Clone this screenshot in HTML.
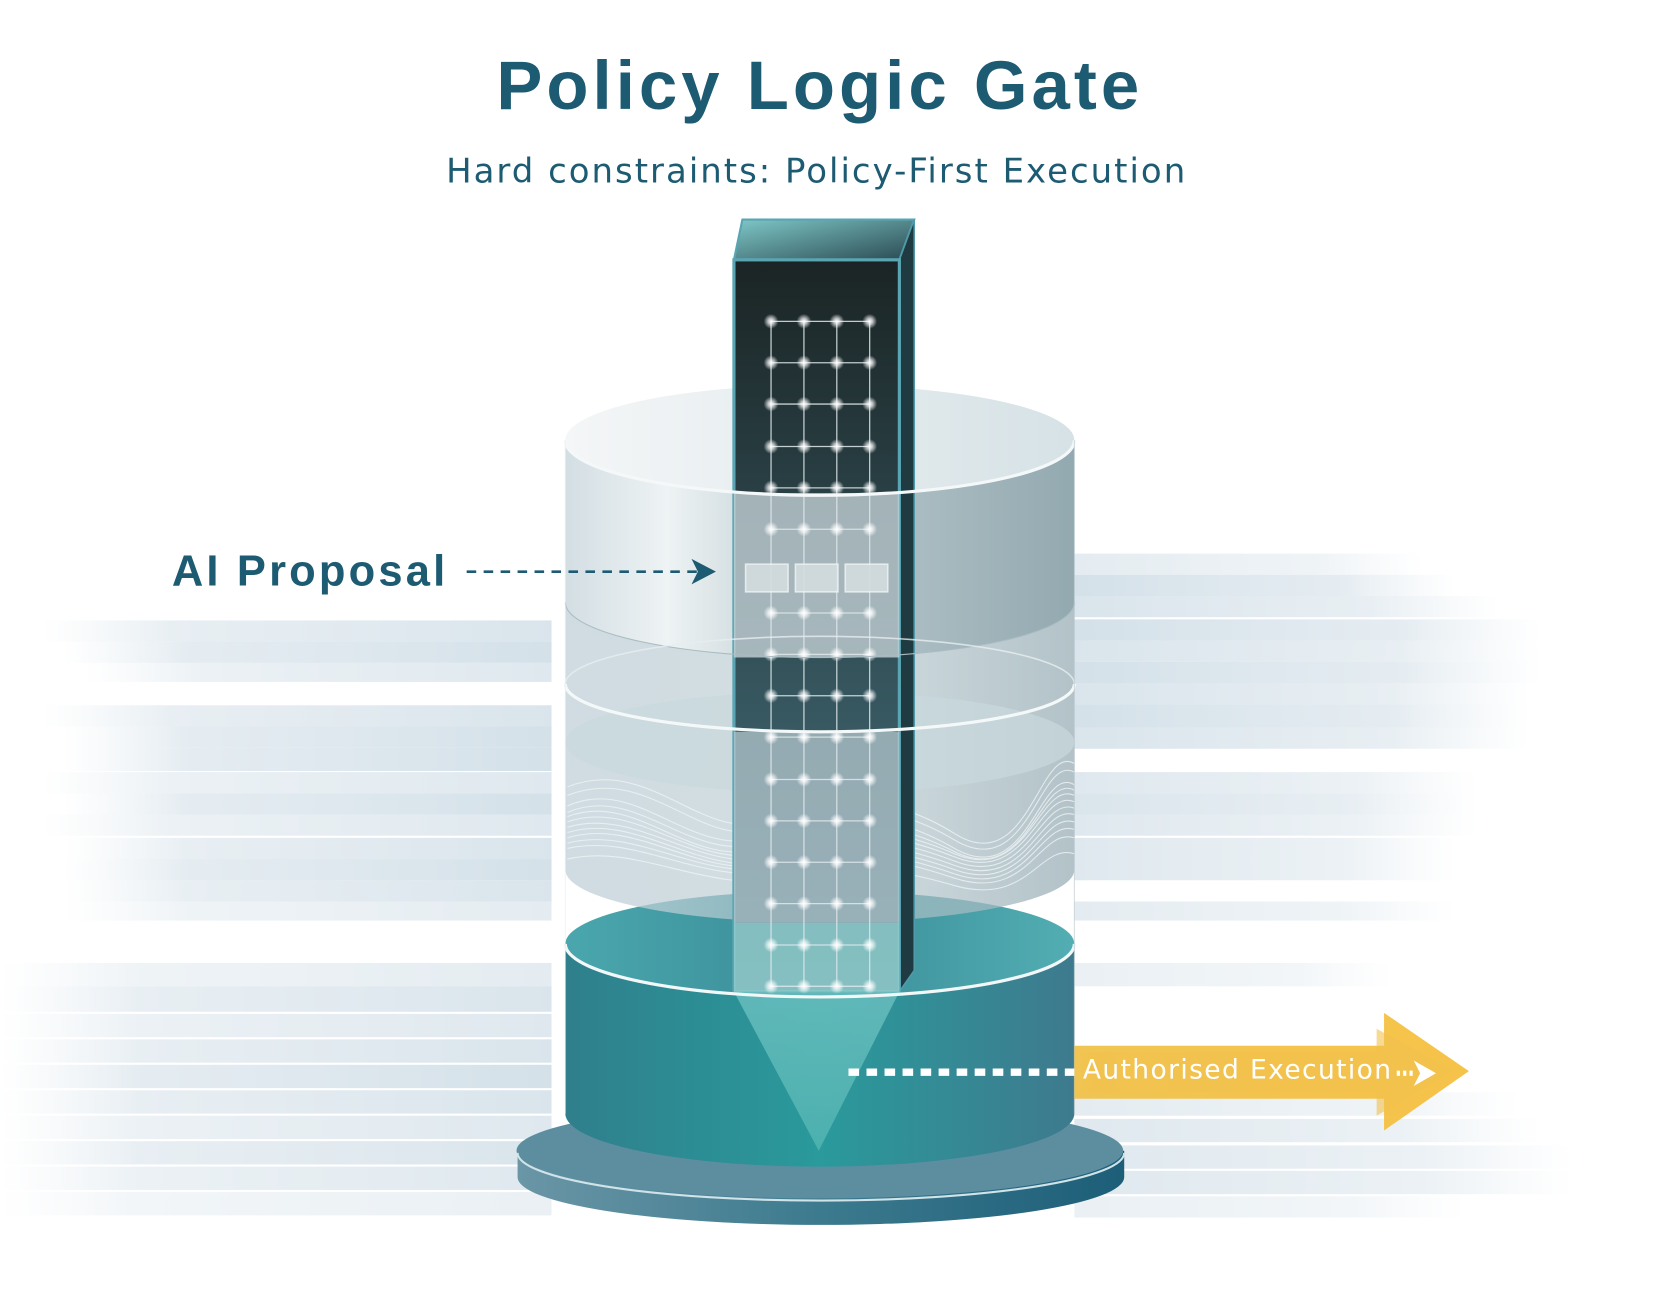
<!DOCTYPE html>
<html><head><meta charset="utf-8"><style>
html,body{margin:0;padding:0;background:#fff;}
svg{display:block;}
</style></head><body>
<svg width="1663" height="1296" viewBox="0 0 1568 1222" xmlns="http://www.w3.org/2000/svg">
<defs>
<linearGradient id="fadeL" x1="0" x2="1"><stop offset="0" stop-color="#dfe8ee" stop-opacity="0"/><stop offset="0.25" stop-color="#d6e2ea" stop-opacity="0.8"/><stop offset="1" stop-color="#c9d9e3"/></linearGradient>
<linearGradient id="fadeR" x1="1" x2="0"><stop offset="0" stop-color="#dfe8ee" stop-opacity="0"/><stop offset="0.3" stop-color="#d6e2ea" stop-opacity="0.8"/><stop offset="1" stop-color="#c9d9e3"/></linearGradient>
<linearGradient id="band1" x1="0" x2="1"><stop offset="0" stop-color="#d3dee3"/><stop offset="0.2" stop-color="#eef3f4"/><stop offset="0.5" stop-color="#b8c8cd"/><stop offset="1" stop-color="#93a9b0"/></linearGradient>
<linearGradient id="top1" x1="0" x2="1"><stop offset="0" stop-color="#f4f6f7"/><stop offset="1" stop-color="#d6e2e6"/></linearGradient>
<linearGradient id="glass" x1="0" x2="1"><stop offset="0" stop-color="#c4d3da" stop-opacity="0.8"/><stop offset="0.5" stop-color="#b7c9cf" stop-opacity="0.6"/><stop offset="1" stop-color="#9fb3ba" stop-opacity="0.8"/></linearGradient>
<linearGradient id="teal" x1="0" x2="1"><stop offset="0" stop-color="#2f7f8c"/><stop offset="0.5" stop-color="#2a9a9c"/><stop offset="1" stop-color="#3e7a8e"/></linearGradient>
<linearGradient id="tealtop" x1="0" x2="1"><stop offset="0" stop-color="#4aa7ad"/><stop offset="0.5" stop-color="#3a8c98"/><stop offset="1" stop-color="#52aeb3"/></linearGradient>
<linearGradient id="base" x1="0" x2="1"><stop offset="0" stop-color="#6a96a6"/><stop offset="0.5" stop-color="#3c7a8e"/><stop offset="1" stop-color="#1d5e78"/></linearGradient>
<linearGradient id="tower" x1="0" y1="0" x2="0" y2="1"><stop offset="0" stop-color="#1b2424"/><stop offset="0.45" stop-color="#2f4b52"/><stop offset="1" stop-color="#4a7480"/></linearGradient>
<linearGradient id="ttop" x1="0" x2="1" y1="0" y2="1"><stop offset="0" stop-color="#7fc8c8"/><stop offset="1" stop-color="#2a4a52"/></linearGradient>
<linearGradient id="yel" x1="0" x2="1"><stop offset="0" stop-color="#f0c24a"/><stop offset="1" stop-color="#f6c040"/></linearGradient>
<radialGradient id="glow"><stop offset="0" stop-color="#fff"/><stop offset="0.4" stop-color="#fff" stop-opacity="0.7"/><stop offset="1" stop-color="#fff" stop-opacity="0"/></radialGradient>
<linearGradient id="cone" x1="0" y1="0" x2="0" y2="1"><stop offset="0" stop-color="#6cc0c0" stop-opacity="0.8"/><stop offset="1" stop-color="#4fb3b0" stop-opacity="0.9"/></linearGradient>
</defs>

<g>
<rect x="40" y="585" width="480" height="20" fill="url(#fadeL)" opacity="0.7"/>
<rect x="60" y="605" width="460" height="20" fill="url(#fadeL)" opacity="0.8"/>
<rect x="80" y="625" width="440" height="18" fill="url(#fadeL)" opacity="0.6"/>
<rect x="40" y="665" width="480" height="20" fill="url(#fadeL)" opacity="0.7"/>
<rect x="60" y="685" width="460" height="20" fill="url(#fadeL)" opacity="0.8"/>
<rect x="60" y="705" width="460" height="22" fill="url(#fadeL)" opacity="0.8"/>
<rect x="40" y="728" width="480" height="20" fill="url(#fadeL)" opacity="0.6"/>
<rect x="60" y="748" width="460" height="20" fill="url(#fadeL)" opacity="0.8"/>
<rect x="40" y="768" width="480" height="20" fill="url(#fadeL)" opacity="0.6"/>
<rect x="60" y="790" width="460" height="20" fill="url(#fadeL)" opacity="0.7"/>
<rect x="60" y="810" width="460" height="20" fill="url(#fadeL)" opacity="0.8"/>
<rect x="60" y="830" width="460" height="20" fill="url(#fadeL)" opacity="0.7"/>
<rect x="60" y="850" width="460" height="18" fill="url(#fadeL)" opacity="0.5"/>
<rect x="0" y="908" width="520" height="22" fill="url(#fadeL)" opacity="0.5"/>
<rect x="0" y="930" width="520" height="24" fill="url(#fadeL)" opacity="0.7"/>
<rect x="0" y="956" width="520" height="22" fill="url(#fadeL)" opacity="0.6"/>
<rect x="0" y="980" width="520" height="22" fill="url(#fadeL)" opacity="0.7"/>
<rect x="0" y="1004" width="520" height="22" fill="url(#fadeL)" opacity="0.8"/>
<rect x="0" y="1028" width="520" height="22" fill="url(#fadeL)" opacity="0.7"/>
<rect x="0" y="1052" width="520" height="22" fill="url(#fadeL)" opacity="0.6"/>
<rect x="0" y="1076" width="520" height="22" fill="url(#fadeL)" opacity="0.7"/>
<rect x="0" y="1100" width="520" height="22" fill="url(#fadeL)" opacity="0.6"/>
<rect x="0" y="1124" width="520" height="22" fill="url(#fadeL)" opacity="0.4"/>

<rect x="1013" y="522" width="330" height="20" fill="url(#fadeR)" opacity="0.5"/>
<rect x="1013" y="542" width="360" height="20" fill="url(#fadeR)" opacity="0.8"/>
<rect x="1013" y="562" width="400" height="20" fill="url(#fadeR)" opacity="0.7"/>
<rect x="1013" y="584" width="440" height="20" fill="url(#fadeR)" opacity="0.8"/>
<rect x="1013" y="604" width="440" height="20" fill="url(#fadeR)" opacity="0.7"/>
<rect x="1013" y="624" width="440" height="20" fill="url(#fadeR)" opacity="0.8"/>
<rect x="1013" y="644" width="430" height="20" fill="url(#fadeR)" opacity="0.7"/>
<rect x="1013" y="664" width="430" height="22" fill="url(#fadeR)" opacity="0.8"/>
<rect x="1013" y="686" width="430" height="20" fill="url(#fadeR)" opacity="0.7"/>
<rect x="1013" y="728" width="380" height="20" fill="url(#fadeR)" opacity="0.6"/>
<rect x="1013" y="748" width="380" height="20" fill="url(#fadeR)" opacity="0.7"/>
<rect x="1013" y="768" width="380" height="20" fill="url(#fadeR)" opacity="0.6"/>
<rect x="1013" y="790" width="360" height="20" fill="url(#fadeR)" opacity="0.6"/>
<rect x="1013" y="810" width="360" height="20" fill="url(#fadeR)" opacity="0.6"/>
<rect x="1013" y="850" width="360" height="18" fill="url(#fadeR)" opacity="0.5"/>
<rect x="1013" y="908" width="300" height="22" fill="url(#fadeR)" opacity="0.4"/>
<rect x="1013" y="1030" width="420" height="22" fill="url(#fadeR)" opacity="0.5"/>
<rect x="1013" y="1055" width="440" height="22" fill="url(#fadeR)" opacity="0.6"/>
<rect x="1013" y="1080" width="470" height="22" fill="url(#fadeR)" opacity="0.6"/>
<rect x="1013" y="1104" width="470" height="22" fill="url(#fadeR)" opacity="0.6"/>
<rect x="1013" y="1128" width="370" height="20" fill="url(#fadeR)" opacity="0.4"/>
</g>

<text x="773" y="103" text-anchor="middle" font-family="Liberation Sans, sans-serif" font-weight="bold" font-size="65" letter-spacing="3.8" fill="#1d5b73">Policy Logic Gate</text>
<text x="770" y="172" text-anchor="middle" font-family="DejaVu Sans, sans-serif" font-size="32" letter-spacing="1.9" fill="#1d5b73">Hard constraints: Policy-First Execution</text>

<path d="M488 1085 L488 1110 A286 45 0 0 0 1060 1110 L1060 1085 Z" fill="url(#base)"/>
<ellipse cx="773" cy="1085" rx="286" ry="45" fill="#5c8ea0"/>
<path d="M488 1087 A286 45 0 0 0 1060 1087" fill="none" stroke="#cfe3e8" stroke-width="2"/>

<path d="M533 890 L533 1050 A240 50 0 0 0 1013 1050 L1013 890 Z" fill="url(#teal)"/>
<ellipse cx="773" cy="890" rx="240" ry="50" fill="url(#tealtop)"/>

<path d="M533 570 L533 820 A240 50 0 0 0 1013 820 L1013 570 Z" fill="url(#glass)"/>
<ellipse cx="773" cy="700" rx="240" ry="48" fill="#c9d8dd" opacity="0.7"/>
<g fill="none" stroke="#eef4f6" stroke-width="1" opacity="0.8">
<path d="M535 760 C600 730 650 810 720 790 S830 760 900 800 S980 720 1013 740"/>
<path d="M535 766 C600 738 650 815 720 795 S830 768 900 803 S980 728 1013 745"/>
<path d="M535 770 C600 745 650 820 720 800 S830 775 900 805 S980 735 1013 750"/>
<path d="M535 775 C600 752 655 822 725 804 S830 780 900 808 S980 742 1013 756"/>
<path d="M535 780 C600 760 660 825 730 808 S830 785 900 812 S980 750 1013 762"/>
<path d="M535 785 C600 765 660 828 730 812 S830 790 900 816 S980 758 1013 768"/>
<path d="M535 790 C600 770 660 830 730 815 S830 795 900 820 S980 765 1013 775"/>
<path d="M535 795 C600 778 660 832 735 818 S830 800 900 824 S980 772 1013 782"/>
<path d="M535 800 C600 785 660 835 740 822 S830 805 900 828 S980 780 1013 790"/>
<path d="M535 810 C600 795 660 840 740 830 S830 815 900 835 S980 795 1013 805"/>
<path d="M535 750 C610 720 660 800 720 782 S830 750 900 792 S980 710 1013 728"/>
<path d="M535 742 C610 712 660 792 720 775 S830 742 900 786 S980 700 1013 720"/>
</g>

<path d="M533 415 L533 568 A240 52 0 0 0 1013 568 L1013 415 Z" fill="url(#band1)"/>
<ellipse cx="773" cy="415" rx="240" ry="52" fill="url(#top1)"/>

<polygon points="692,245 700,207 862,207 848,245" fill="url(#ttop)" stroke="#5aa5b3" stroke-width="2"/>
<polygon points="848,245 862,207 862,915 848,935" fill="#1f3a40" stroke="#4f9aa8" stroke-width="1.5"/>
<rect x="692" y="245" width="156" height="690" fill="url(#tower)" stroke="#5aa5b3" stroke-width="3"/>
<polygon points="692,935 848,935 772,1085" fill="url(#cone)"/>

<path d="M692 465 L848 465 L848 620 L692 620 Z" fill="#c6d3d8" opacity="0.78"/>
<path d="M692 690 L848 690 L848 870 L692 870 Z" fill="#b8cbd1" opacity="0.72"/>
<path d="M692 870 L848 870 L848 935 L692 935 Z" fill="#8fcccc" opacity="0.85"/>

<g stroke="#dfe9ec" stroke-width="1.2" opacity="0.85">
<line x1="727" y1="303" x2="727" y2="930"/><line x1="758" y1="303" x2="758" y2="930"/>
<line x1="789" y1="303" x2="789" y2="930"/><line x1="820" y1="303" x2="820" y2="930"/>
<line x1="727" y1="303" x2="820" y2="303"/><line x1="727" y1="342" x2="820" y2="342"/>
<line x1="727" y1="381" x2="820" y2="381"/><line x1="727" y1="421" x2="820" y2="421"/>
<line x1="727" y1="460" x2="820" y2="460"/><line x1="727" y1="499" x2="820" y2="499"/>
<line x1="727" y1="578" x2="820" y2="578"/><line x1="727" y1="617" x2="820" y2="617"/>
<line x1="727" y1="656" x2="820" y2="656"/><line x1="727" y1="695" x2="820" y2="695"/>
<line x1="727" y1="735" x2="820" y2="735"/><line x1="727" y1="774" x2="820" y2="774"/>
<line x1="727" y1="813" x2="820" y2="813"/><line x1="727" y1="852" x2="820" y2="852"/>
<line x1="727" y1="891" x2="820" y2="891"/><line x1="727" y1="930" x2="820" y2="930"/>
</g>
<g fill="url(#glow)">
<g id="row"><circle cx="727" cy="0" r="7"/><circle cx="758" cy="0" r="7"/><circle cx="789" cy="0" r="7"/><circle cx="820" cy="0" r="7"/></g>
<use href="#row" y="303"/><use href="#row" y="342"/><use href="#row" y="381"/><use href="#row" y="421"/>
<use href="#row" y="460"/><use href="#row" y="499"/><use href="#row" y="578"/><use href="#row" y="617"/>
<use href="#row" y="656"/><use href="#row" y="695"/><use href="#row" y="735"/><use href="#row" y="774"/>
<use href="#row" y="813"/><use href="#row" y="852"/><use href="#row" y="891"/><use href="#row" y="930"/>
</g>
<g fill="#d4dde0" stroke="#eef3f4" stroke-width="1.5" opacity="0.9">
<rect x="703" y="532" width="40" height="26"/><rect x="750" y="532" width="40" height="26"/><rect x="797" y="532" width="40" height="26"/>
</g>

<path d="M533 415 A240 52 0 0 0 1013 415" fill="none" stroke="#f5f8f9" stroke-width="3"/>
<path d="M533 568 A240 52 0 0 0 1013 568" fill="none" stroke="#a8bcc2" stroke-width="1"/>
<path d="M533 645 A240 45 0 0 0 1013 645" fill="none" stroke="#f4f8f9" stroke-width="3"/>
<path d="M533 645 A240 45 0 0 1 1013 645" fill="none" stroke="#e6eef0" stroke-width="1.5" opacity="0.8"/>
<path d="M533 890 A240 50 0 0 0 1013 890" fill="none" stroke="#f2f7f8" stroke-width="3"/>
<line x1="533" y1="415" x2="533" y2="1050" stroke="#e9f0f2" stroke-width="1" opacity="0.6"/>
<line x1="1013" y1="415" x2="1013" y2="1050" stroke="#b7c6cb" stroke-width="1" opacity="0.6"/>

<text x="162" y="552" font-family="Liberation Sans, sans-serif" font-weight="bold" font-size="41" letter-spacing="3" fill="#1d5b73">AI Proposal</text>
<line x1="440" y1="539" x2="660" y2="539" stroke="#1d5b73" stroke-width="2.5" stroke-dasharray="9,7"/>
<polygon points="652,527 675,539 652,551 658,539" fill="#1d5b73"/>

<polygon points="1013,986 1305,986 1305,955 1385,1010 1305,1066 1305,1036 1013,1036" fill="url(#yel)" opacity="0.95"/>
<polygon points="1020,992 1298,992 1298,970 1370,1010 1298,1052 1298,1030 1020,1030" fill="#f2c24c" opacity="0.6"/>
<line x1="800" y1="1011" x2="1013" y2="1011" stroke="#fff" stroke-width="7" stroke-dasharray="10,7"/>
<text x="1021" y="1017" font-family="DejaVu Sans, sans-serif" font-size="25" letter-spacing="1.3" fill="#fff">Authorised Execution</text>
<line x1="1317" y1="1012" x2="1332" y2="1012" stroke="#fff" stroke-width="5" stroke-dasharray="3,3"/>
<polygon points="1333,1000 1354,1012 1333,1024 1339,1012" fill="#fff"/>
</svg>
</body></html>
